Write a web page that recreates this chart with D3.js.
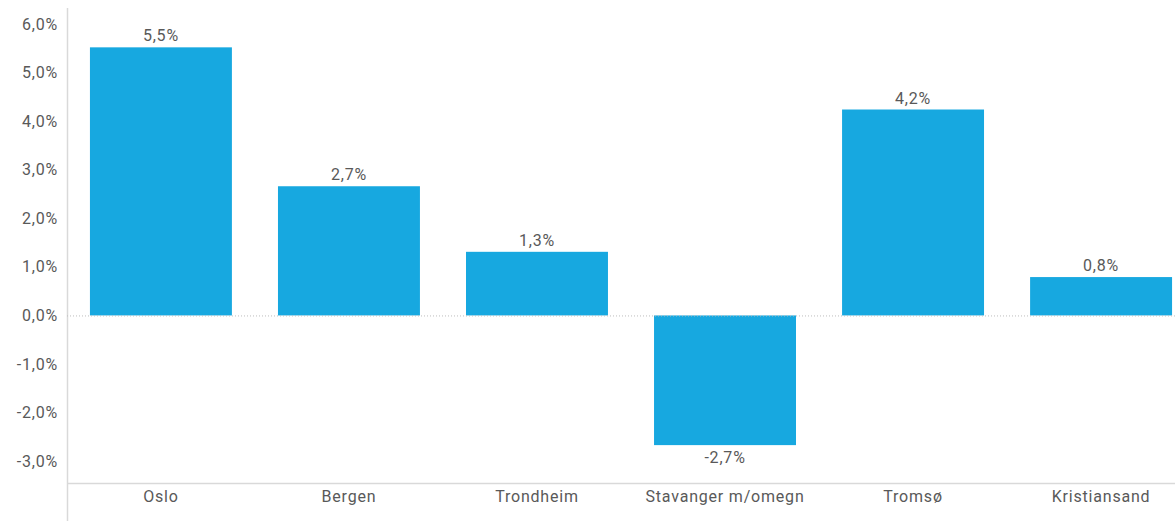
<!DOCTYPE html>
<html lang="no">
<head>
  <meta charset="UTF-8" />
  <title>Prisvekst per by</title>
  <script src="https://d3js.org/d3.v7.min.js"></script>
  <style>
    body { margin: 0; background: #fff; }
    svg text { font-family: Roboto, "DejaVu Sans", sans-serif; fill: #595959; font-size: 16px; letter-spacing: 0.8px; }
  </style>
</head>
<body>
  <svg id="chart" width="1175" height="521"></svg>

  <script>
    const cities = ["Oslo", "Bergen", "Trondheim", "Stavanger m/omegn", "Tromsø", "Kristiansand"];
    const values = [5.52, 2.66, 1.31, -2.67, 4.24, 0.79];
    const yTicks = [-3, -2, -1, 0, 1, 2, 3, 4, 5, 6];

    const width = 1175;
    const height = 521;

    const svg = d3.select("#chart");
    const data = cities.map((c, i) => ({ city: c, value: values[i] }));

    const fmt = v => v.toFixed(1).replace(".", ",") + "%";

    const x = d3.scaleBand()
      .domain(cities)
      .range([67, 1195])
      .paddingInner(0.245)
      .paddingOuter(0.122);

    const y = d3.scaleLinear()
      .domain([-3.45, 6.33])
      .range([483, 8]);

    // axis lines
    svg.append("line")
      .attr("x1", 67.5).attr("x2", 67.5)
      .attr("y1", 8).attr("y2", height)
      .attr("stroke", "#d9d9d9").attr("stroke-width", 1.5);

    svg.append("line")
      .attr("x1", 67).attr("x2", width)
      .attr("y1", 483.5).attr("y2", 483.5)
      .attr("stroke", "#d9d9d9").attr("stroke-width", 1.5);

    // y tick labels
    svg.append("g").selectAll("text")
      .data(yTicks)
      .enter().append("text")
      .attr("x", 58)
      .attr("y", d => y(d))
      .attr("dy", "0.35em")
      .attr("text-anchor", "end")
      .text(d => d.toFixed(1).replace(".", ",") + "%");

    // bars
    svg.append("g").selectAll("rect")
      .data(data)
      .enter().append("rect")
      .attr("x", d => x(d.city))
      .attr("width", x.bandwidth())
      .attr("y", d => y(Math.max(0, d.value)))
      .attr("height", d => Math.abs(y(d.value) - y(0)))
      .attr("fill", "#17a8e0");

    // zero line (dotted)
    svg.append("line")
      .attr("x1", 67).attr("x2", width)
      .attr("y1", y(0) + 0.5).attr("y2", y(0) + 0.5)
      .attr("stroke", "#bdbdbd")
      .attr("stroke-width", 1)
      .attr("stroke-dasharray", "1,2");

    // value labels
    svg.append("g").selectAll("text")
      .data(data)
      .enter().append("text")
      .attr("x", d => x(d.city) + x.bandwidth() / 2)
      .attr("y", d => d.value >= 0 ? y(d.value) - 6 : y(d.value) + 18)
      .attr("text-anchor", "middle")
      .text(d => fmt(d.value));

    // category labels
    svg.append("g").selectAll("text")
      .data(cities)
      .enter().append("text")
      .attr("x", d => x(d) + x.bandwidth() / 2)
      .attr("y", 502)
      .attr("text-anchor", "middle")
      .text(d => d);
  </script>
</body>
</html>
